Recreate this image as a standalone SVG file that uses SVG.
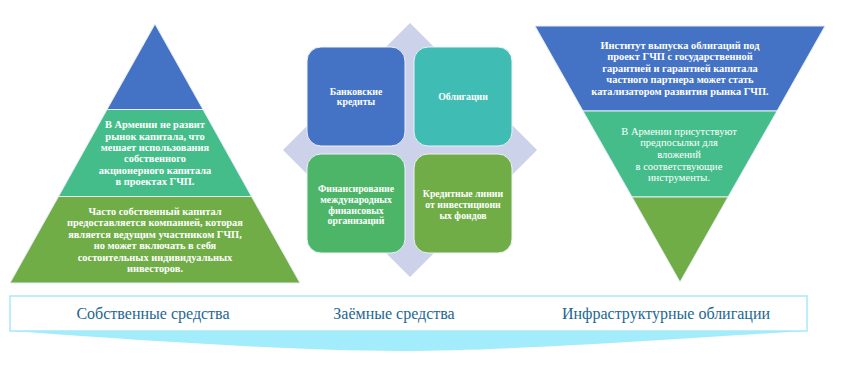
<svg xmlns="http://www.w3.org/2000/svg" width="852" height="365" viewBox="0 0 852 365">
<style>
.band{stroke:#e6ecf5;stroke-width:1}
.tb{font-family:"Liberation Serif","Times New Roman",serif;font-weight:bold;font-size:10.4px;fill:#ffffff;text-anchor:middle}
.tr{font-family:"Liberation Serif","Times New Roman",serif;font-size:10.5px;fill:#ffffff;text-anchor:middle}
.bx{font-family:"Liberation Serif","Times New Roman",serif;font-weight:bold;font-size:9.8px;fill:#ffffff;text-anchor:middle}
.lbl{font-family:"Liberation Serif","Times New Roman",serif;font-size:16px;fill:#1d6890;text-anchor:middle}
</style>
<g id="left-pyramid">
<polygon class="band" points="155,24 203,109.5 107,109.5" fill="#4472c4"/>
<polygon class="band" points="107,109.5 203,109.5 251.5,196.5 58.5,196.5" fill="#45bd8b"/>
<polygon class="band" points="58.5,196.5 251.5,196.5 300,283 10,283" fill="#70ad47"/>
<text class="tb" x="155" y="128">В Армении не развит</text>
<text class="tb" x="155" y="139.5">рынок капитала, что</text>
<text class="tb" x="155" y="151">мешает использования</text>
<text class="tb" x="155" y="162">собственного</text>
<text class="tb" x="155" y="173.5">акционерного капитала</text>
<text class="tb" x="155" y="185">в проектах ГЧП.</text>
<text class="tb" x="155" y="214.5">Часто собственный капитал</text>
<text class="tb" x="155" y="226">предоставляется компанией, которая</text>
<text class="tb" x="155" y="237.5">является ведущим участником ГЧП,</text>
<text class="tb" x="155" y="249">но может включать в себя</text>
<text class="tb" x="155" y="260.5">состоительных индивидуальных</text>
<text class="tb" x="155" y="272">инвесторов.</text>
</g>
<g id="matrix">
<polygon points="410,23 537,150 410,277 283,150" fill="#ccd2ea"/>
<g id="box-bank"><rect x="307" y="47" width="98" height="99" rx="14" fill="#4472c4" stroke="#eef1f8" stroke-width="1"/>
<text class="bx" x="356" y="95">Банковские</text><text class="bx" x="356" y="105">кредиты</text></g>
<g id="box-bonds"><rect x="414" y="47" width="98" height="99" rx="14" fill="#3fbdb5" stroke="#eef1f8" stroke-width="1"/>
<text class="bx" x="463" y="100">Облигации</text></g>
<g id="box-intl"><rect x="307" y="154" width="98" height="99" rx="14" fill="#4cb567" stroke="#eef1f8" stroke-width="1"/>
<text class="bx" x="356" y="192">Финансирование</text><text class="bx" x="356" y="203">международных</text><text class="bx" x="356" y="213.5">финансовых</text><text class="bx" x="356" y="224">организаций</text></g>
<g id="box-credit"><rect x="414" y="154" width="98" height="99" rx="14" fill="#70ad47" stroke="#eef1f8" stroke-width="1"/>
<text class="bx" x="463" y="197">Кредитные линии</text><text class="bx" x="463" y="208">от инвестиционн</text><text class="bx" x="463" y="218.5">ых фондов</text></g>
</g>
<g id="right-pyramid">
<polygon class="band" points="535,26 825,26 777,111 583,111" fill="#4472c4"/>
<polygon class="band" points="583,111 777,111 728,197 632,197" fill="#45bd8b"/>
<polygon class="band" points="632,197 728,197 680,282" fill="#70ad47"/>
<text class="tb" x="680" y="48.5">Институт выпуска облигаций под</text>
<text class="tb" x="680" y="60">проект ГЧП с государственной</text>
<text class="tb" x="680" y="71.5">гарантией и гарантией капитала</text>
<text class="tb" x="680" y="83">частного партнера может стать</text>
<text class="tb" x="680" y="94.5">катализатором развития рынка ГЧП.</text>
<text class="tr" x="679" y="134.5">В Армении присутствуют</text>
<text class="tr" x="679" y="146">предпосылки для</text>
<text class="tr" x="679" y="158">вложений</text>
<text class="tr" x="679" y="169.5">в соответствующие</text>
<text class="tr" x="679" y="181">инструменты.</text>
</g>
<g id="banner">
<path d="M10,331 H807 C700,337 520,351 400,351 C280,351 100,337 10,331 Z" fill="#a2ecfc"/>
<rect x="10" y="296" width="797" height="35" fill="#ffffff" stroke="#a8e9f8" stroke-width="1.5"/>
<text class="lbl" x="153" y="319">Собственные средства</text>
<text class="lbl" x="394" y="319">Заёмные средства</text>
<text class="lbl" x="666" y="319">Инфраструктурные облигации</text>
</g>
</svg>
